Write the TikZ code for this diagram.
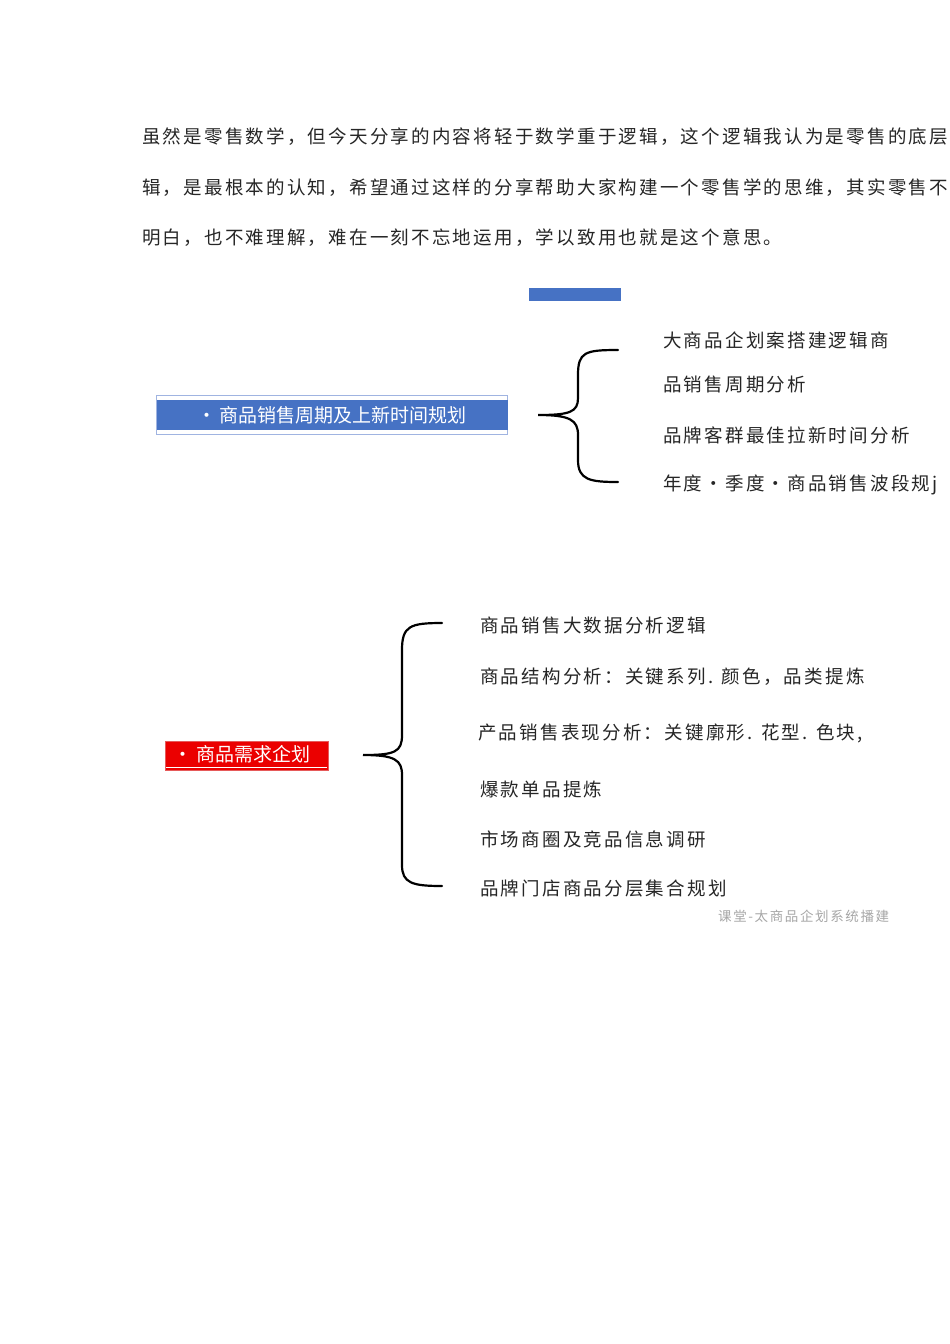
\documentclass[tikz,border=0pt]{standalone}
\usepackage{fontspec}
\newfontfamily\cjk[LetterSpace=12]{Noto Sans CJK SC}
\newfontfamily\cjkb{Noto Sans CJK SC}
\begin{document}
\begin{tikzpicture}[x=1pt,y=-1pt,
  txt/.style={anchor=west,inner sep=0pt,font=\cjk\fontsize{18.5}{18.5}\selectfont,text=black!85},
  brace/.style={line width=2.2pt,line cap=round}]
\useasboundingbox (0,0) rectangle (950,1344);
\clip (0,0) rectangle (950,1344);
\node[txt] (p1) at (142,137) {虽然是零售数学，但今天分享的内容将轻于数学重于逻辑，这个逻辑我认为是零售的底层逻};
\node[txt] (p2) at (142,188) {辑，是最根本的认知，希望通过这样的分享帮助大家构建一个零售学的思维，其实零售不难};
\node[txt] (p3) at (142,238) {明白，也不难理解，难在一刻不忘地运用，学以致用也就是这个意思。};
\fill[fill={rgb,255:red,70;green,114;blue,196}] (529,288) rectangle (621,301);
\node[draw={rgb,255:red,160;green,180;blue,225},minimum width=351pt,minimum height=39pt,inner sep=0pt] (b1f) at (332,415) {};
\node[fill={rgb,255:red,70;green,114;blue,196},minimum width=351pt,minimum height=30pt,inner sep=0pt,text=white,font=\cjkb\fontsize{19}{19}\selectfont] (b1) at (332,415) {·\,商品销售周期及上新时间规划};
\draw[brace] (618,350) .. controls (585,350) and (578,352) .. (578,375) -- (578,398) .. controls (578,412) and (570,415) .. (538,415) .. controls (570,415) and (578,420) .. (578,435) -- (578,460) .. controls (578,480) and (590,482) .. (618,482);
\node[txt] (r1) at (663,340) {大商品企划案搭建逻辑商};
\node[txt] (r2) at (663,385) {品销售周期分析};
\node[txt] (r3) at (663,435) {品牌客群最佳拉新时间分析};
\node[txt] (r4) at (663,485) {年度•季度•商品销售波段规j};
\node[draw={rgb,255:red,230;green,90;blue,90},fill={rgb,255:red,235;green,0;blue,0},minimum width=163pt,minimum height=29pt,inner sep=0pt] (b2) at (247,756) {};
\node[text=white,font=\cjkb\fontsize{19}{19}\selectfont,inner sep=0pt] (b2t) at (242,754) {·\,商品需求企划};
\draw[white,line width=1.2pt] (b2.south west) ++(1,-3) -- ++(161,0);
\draw[brace] (442,623) .. controls (410,623) and (402,626) .. (402,650) -- (402,735) .. controls (402,752) and (395,755) .. (363,755) .. controls (395,755) and (402,760) .. (402,775) -- (402,865) .. controls (402,883) and (412,886) .. (442,886);
\node[txt] (s1) at (480,625) {商品销售大数据分析逻辑};
\node[txt] (s2) at (480,677) {商品结构分析：关键系列. 颜色，品类提炼};
\node[txt] (s3) at (478,733) {产品销售表现分析：关键廓形. 花型. 色块,};
\node[txt] (s4) at (480,789) {爆款单品提炼};
\node[txt] (s5) at (480,839) {市场商圈及竞品信息调研};
\node[txt] (s6) at (480,889) {品牌门店商品分层集合规划};
\node[anchor=west,inner sep=0pt,font=\cjk\fontsize{13.5}{13.5}\selectfont,text=black!35] (w) at (718,916) {课堂-太商品企划系统播建};
\end{tikzpicture}
\end{document}
